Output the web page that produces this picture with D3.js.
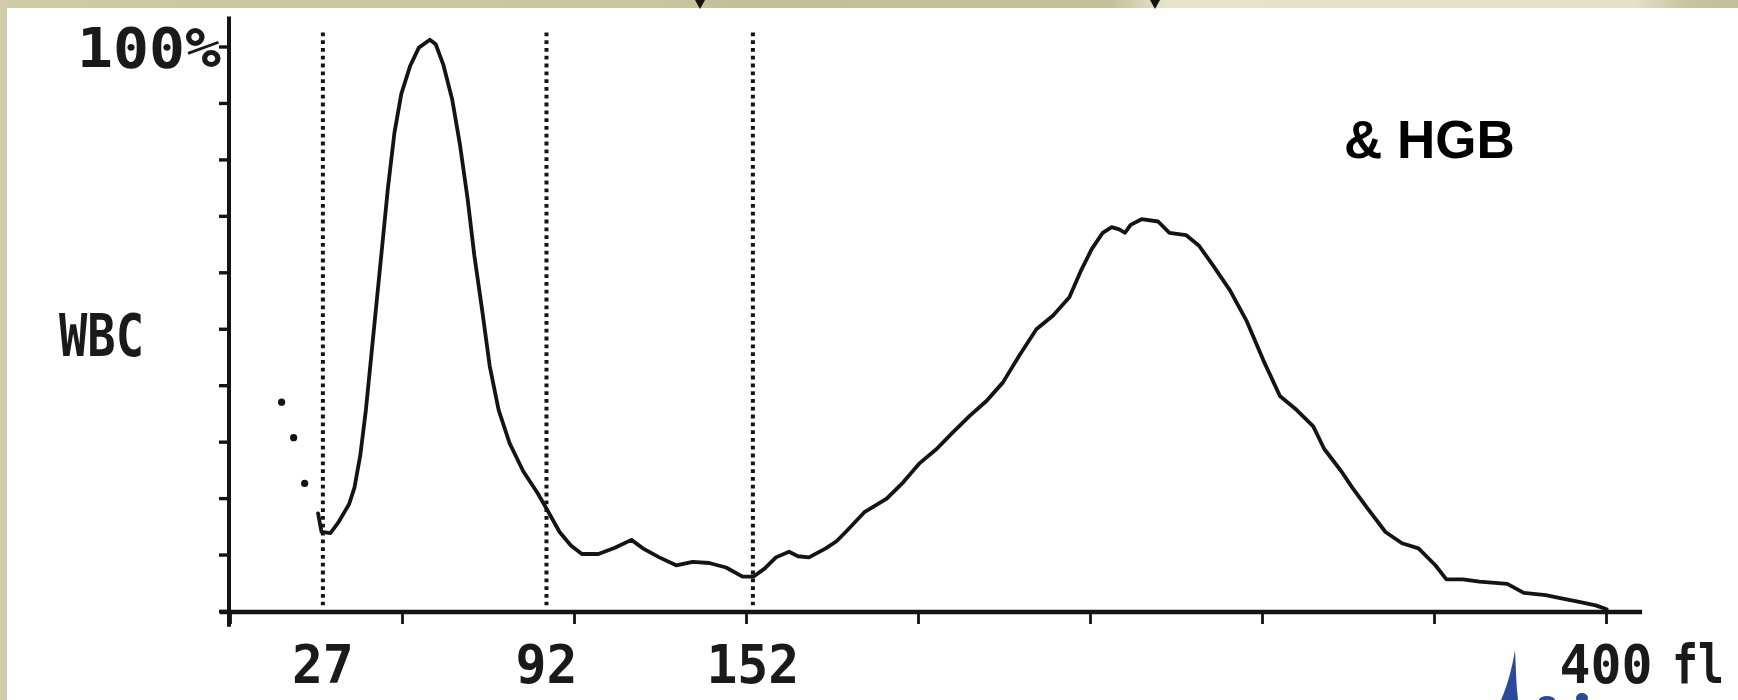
<!DOCTYPE html>
<html>
<head>
<meta charset="utf-8">
<script src="https://cdn.jsdelivr.net/npm/d3@7"></script>
<style>
  html, body { margin: 0; padding: 0; background: #ffffff; }
  svg { display: block; }
</style>
</head>
<body>
<svg id="chart" width="1738" height="700"></svg>
<script>
// ---- data ----
const sizes = [25.6, 26.6, 29.2, 31.4, 34.6, 36.2, 37.9, 39.5, 41.1, 42.7, 44.3, 45.9, 47.8, 49.8, 52.4, 54.9, 58.1,
  59.8, 62.0, 64.6, 66.8, 69.1, 71.0, 73.3, 75.5, 78.1, 81.3, 85.2, 89.4, 92.6, 95.8, 99.1, 102.3, 107.1, 111.9,
  116.7, 120.0, 124.8, 129.7, 134.5, 139.3, 144.2, 149.0, 152.2, 155.4, 158.7, 162.5, 165.1, 168.3, 173.2, 176.4,
  179.6, 184.4, 190.9, 195.7, 200.5, 205.4, 210.2, 215.1, 219.9, 224.7, 229.6, 234.4, 239.2, 244.0, 247.3, 250.5,
  253.7, 256.3, 258.5, 260.2, 261.8, 265.0, 269.8, 273.1, 277.9, 281.7, 285.9, 290.7, 295.6, 300.4, 305.2, 310.1,
  314.9, 318.1, 323.0, 326.2, 331.0, 335.9, 340.7, 345.5, 350.4, 353.6, 358.4, 363.2, 371.3, 376.1, 382.5, 387.4,
  392.2, 397.0, 400.2];
const percents = [17.3, 14.0, 13.8, 15.6, 18.9, 21.9, 27.7, 35.6, 45.4, 55.2, 65.0, 74.9, 84.7, 91.6, 96.6, 99.8, 101.2,
  100.4, 96.8, 90.6, 82.8, 72.9, 63.1, 53.3, 43.4, 35.6, 29.7, 24.8, 20.9, 17.5, 14.0, 11.6, 10.1, 10.1, 11.2,
  12.6, 11.1, 9.5, 8.1, 8.7, 8.5, 7.7, 6.1, 6.1, 7.5, 9.5, 10.5, 9.7, 9.5, 11.1, 12.4,
  14.4, 17.5, 19.9, 22.8, 26.2, 28.7, 31.7, 34.6, 37.2, 40.5, 45.4, 49.9, 52.3, 55.6, 60.2, 64.1,
  67.0, 68.0, 67.6, 67.0, 68.4, 69.4, 69.0, 67.0, 66.6, 64.7, 61.1, 56.8, 51.3, 44.4, 38.1, 35.6,
  32.7, 28.7, 24.8, 21.9, 17.9, 14.0, 12.0, 11.1, 8.1, 5.6, 5.6, 5.2, 4.8, 3.2, 2.8, 2.2,
  1.6, 1.0, 0.3];
const thresholds = [27, 92, 152];
const xTicks = [0, 50, 100, 150, 200, 250, 300, 350, 400];
const xLabelValues = [27, 92, 152, 400];
const xLabelTexts = ["27", "92", "152", "400"];
const yTicks = [0, 10, 20, 30, 40, 50, 60, 70, 80, 90, 100];
const flagSizes = [15.0, 18.5, 21.7];
const flagPercents = [37.0, 30.7, 22.6];
const yAxisTitle = "WBC";
const yTopLabel = "100%";
const unitLabel = "fl";
const noteText = "& HGB";

// ---- layout ----
const svg = d3.select("#chart");
const W = 1738, H = 700;

// background: white sheet with beige slide edges
const defs = svg.append("defs");
const g1 = defs.append("linearGradient").attr("id", "topband").attr("x1", "0").attr("x2", "1").attr("y1", "0").attr("y2", "0");
[[0, "#cdcaa4"], [0.38, "#c9c69f"], [0.42, "#c3c099"], [0.64, "#c4c19a"], [0.67, "#e6e4c8"], [0.94, "#e4e2c6"], [0.97, "#c7c4a0"], [1, "#c2bf9b"]]
  .forEach(([o, c]) => g1.append("stop").attr("offset", o).attr("stop-color", c));
svg.append("rect").attr("x", 0).attr("y", 0).attr("width", W).attr("height", H).attr("fill", "#ffffff");
svg.append("rect").attr("x", 0).attr("y", 0).attr("width", W).attr("height", 8).attr("fill", "url(#topband)");
svg.append("rect").attr("x", 0).attr("y", 0).attr("width", 7).attr("height", H).attr("fill", "#d0cda8");

// small arrow tips from the slide above
[700, 1155].forEach(ax => {
  svg.append("path").attr("d", `M${ax - 5},0 L${ax + 5},0 L${ax},9 Z`).attr("fill", "#111");
});

const x = d3.scaleLinear().domain([0, 400]).range([230, 1606]);
const y = d3.scaleLinear().domain([0, 100]).range([611, 46.5]);

const ink = "#141414";

// dotted threshold lines
svg.append("g").selectAll("line").data(thresholds).join("line")
  .attr("x1", d => x(d)).attr("x2", d => x(d))
  .attr("y1", y(102.5)).attr("y2", y(1))
  .attr("stroke", ink).attr("stroke-width", 4).attr("stroke-dasharray", "3.8,4");

// y axis (ticks every 10 %)
const yAxis = d3.axisLeft(y).tickValues(yTicks).tickSize(10).tickFormat("");
const gy = svg.append("g").attr("transform", `translate(${x(0) - 1},0)`).call(yAxis);
gy.select(".domain").remove();
gy.selectAll(".tick line").attr("stroke", ink).attr("stroke-width", 3.4);
svg.append("line").attr("x1", x(0) - 1).attr("x2", x(0) - 1).attr("y1", y(105.3)).attr("y2", y(-2.8))
  .attr("stroke", ink).attr("stroke-width", 4);

// x axis (ticks every 50 fl)
const xAxis = d3.axisBottom(x).tickValues(xTicks).tickSize(13).tickFormat("");
const gx = svg.append("g").attr("transform", `translate(0,${y(0)})`).call(xAxis);
gx.select(".domain").remove();
gx.selectAll(".tick line").attr("stroke", ink).attr("stroke-width", 2.8);
svg.append("line").attr("x1", x(-3)).attr("x2", x(410.5)).attr("y1", y(0) + 1).attr("y2", y(0) + 1)
  .attr("stroke", ink).attr("stroke-width", 4.6);

// x tick labels at the thresholds and end
const mono = "'DejaVu Sans Mono', 'Liberation Mono', monospace";
svg.append("g").selectAll("text").data(xLabelValues).join("text")
  .attr("x", d => x(d)).attr("y", 683)
  .attr("text-anchor", "middle")
  .attr("font-family", mono).attr("font-size", 54).attr("font-weight", "bold")
  .attr("fill", "#1a1a1a")
  .attr("textLength", (d, i) => xLabelTexts[i].length * 31)
  .attr("lengthAdjust", "spacingAndGlyphs")
  .text((d, i) => xLabelTexts[i]);
svg.append("text").attr("x", x(400) + 66).attr("y", 683)
  .attr("font-family", mono).attr("font-size", 54).attr("font-weight", "bold").attr("fill", "#1a1a1a")
  .attr("textLength", 52).attr("lengthAdjust", "spacingAndGlyphs")
  .text(unitLabel);

// y labels
svg.append("text").attr("x", x(0) - 9).attr("y", y(100) + 20)
  .attr("text-anchor", "end")
  .attr("font-family", mono).attr("font-size", 56).attr("font-weight", "bold").attr("fill", "#1a1a1a")
  .attr("textLength", 144).attr("lengthAdjust", "spacingAndGlyphs")
  .text(yTopLabel);
svg.append("text").attr("x", 59).attr("y", 356)
  .attr("font-family", mono).attr("font-size", 58).attr("font-weight", "bold").attr("fill", "#1a1a1a")
  .attr("textLength", 85).attr("lengthAdjust", "spacingAndGlyphs")
  .text(yAxisTitle);

// flag dots left of the first threshold
svg.append("g").selectAll("circle").data(flagSizes).join("circle")
  .attr("cx", d => x(d)).attr("cy", (d, i) => y(flagPercents[i]))
  .attr("r", 3.6).attr("fill", ink);

// histogram curve
const pts = sizes.map((s, i) => [s, percents[i]]);
const line = d3.line().x(d => x(d[0])).y(d => y(d[1])).curve(d3.curveLinear);
svg.append("path").datum(pts).attr("d", line)
  .attr("fill", "none").attr("stroke", ink).attr("stroke-width", 3.8)
  .attr("stroke-linejoin", "round").attr("stroke-linecap", "round");

// annotation
svg.append("text").attr("x", 1344).attr("y", 158)
  .attr("font-family", "'Liberation Sans', Arial, sans-serif").attr("font-weight", "bold")
  .attr("font-size", 53).attr("fill", "#000")
  .text(noteText);

// blue logo fragment at bottom right (cut off by the frame)
svg.append("path")
  .attr("d", "M1515,650 C1512,668 1508,684 1501,700 L1518,700 C1516,684 1516,668 1515,650 Z")
  .attr("fill", "#2c4a9c");
svg.append("ellipse").attr("cx", 1547).attr("cy", 700).attr("rx", 8).attr("ry", 4).attr("fill", "#2c4a9c");
svg.append("ellipse").attr("cx", 1582).attr("cy", 698).attr("rx", 6).attr("ry", 5).attr("fill", "#2c4a9c");
</script>
</body>
</html>
